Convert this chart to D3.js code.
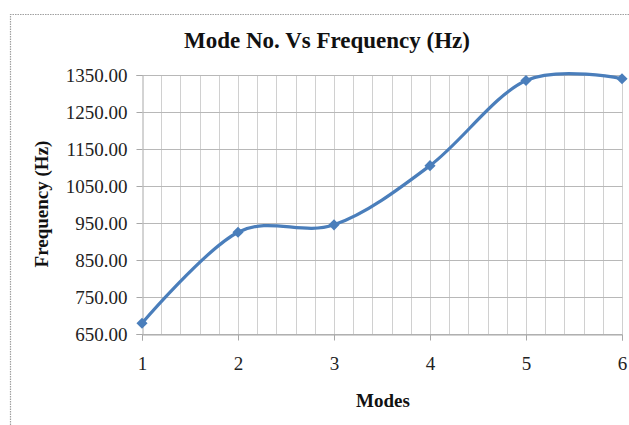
<!DOCTYPE html>
<html><head><meta charset="utf-8">
<script src="https://cdn.jsdelivr.net/npm/d3@7"></script>
<style>body{margin:0;background:#fff}svg{display:block}</style>
</head><body>
<script>
const modes = [1, 2, 3, 4, 5, 6];
const frequency = [679, 925, 945, 1105, 1335, 1340];
const yTicks = [650, 750, 850, 950, 1050, 1150, 1250, 1350];
const xTicks = [1, 2, 3, 4, 5, 6];
const title = "Mode No. Vs Frequency (Hz)";
const xTitle = "Modes";
const yTitle = "Frequency (Hz)";

const W = 629, H = 425;
const svg = d3.select("body").append("svg").attr("width", W).attr("height", H);
const font = "'Liberation Serif','Times New Roman',serif";

// chart frame
svg.append("path").attr("d", "M10.5,430 V14.5 H640").attr("fill", "none")
  .attr("stroke", "#a0a0a0").attr("stroke-width", 1.2).attr("stroke-dasharray", "1.5,1");

const x = d3.scaleLinear().domain([1, 6]).range([142, 622]);
const y = d3.scaleLinear().domain([650, 1350]).range([334, 75]);

// vertical gridlines at 0.2 steps
const vg = d3.range(1.2, 6.01, 0.2);
svg.append("g").selectAll("line").data(vg).join("line")
  .attr("x1", d => Math.round(x(d)) + 0.5).attr("x2", d => Math.round(x(d)) + 0.5)
  .attr("y1", y(1350)).attr("y2", y(650))
  .attr("stroke", "#d0d0d0").attr("stroke-width", 1);

// y axis with gridlines
const yAxis = d3.axisLeft(y).tickValues(yTicks).tickFormat(d3.format(".2f"))
  .tickSize(6).tickPadding(9);
const gy = svg.append("g").attr("transform", "translate(142.5,0)").call(yAxis);
gy.select(".domain").attr("stroke", "#a8a8a8");
gy.selectAll(".tick line").attr("stroke", "#a8a8a8").attr("x2", -6);
gy.selectAll(".tick").append("line").attr("x1", 0).attr("x2", 480).attr("stroke", "#b8b8b8");
gy.selectAll(".tick text").attr("font-family", font).attr("font-size", 19).attr("fill", "#222");

// x axis
const xAxis = d3.axisBottom(x).tickValues(xTicks).tickFormat(d3.format("d"))
  .tickSize(6).tickPadding(16);
const gx = svg.append("g").attr("transform", "translate(0,334.5)").call(xAxis);
gx.select(".domain").attr("stroke", "#a8a8a8");
gx.selectAll(".tick line").attr("stroke", "#a8a8a8");
gx.selectAll(".tick text").attr("font-family", font).attr("font-size", 19).attr("fill", "#222");

// line
const line = d3.line().x((d, i) => x(modes[i])).y(d => y(d)).curve(d3.curveCardinal.tension(0));
svg.append("path").datum(frequency).attr("d", line).attr("fill", "none")
  .attr("stroke", "#4a7ebb").attr("stroke-width", 3.2).attr("stroke-linejoin", "round");

// markers (square rotated 45deg = Excel diamond)
svg.append("g").selectAll("path").data(frequency).join("path")
  .attr("d", d3.symbol(d3.symbolSquare, 62))
  .attr("transform", (d, i) => `translate(${x(modes[i])},${y(d)}) rotate(45)`)
  .attr("fill", "#4a7ebb");

// titles
svg.append("text").attr("x", 327).attr("y", 48).attr("text-anchor", "middle")
  .attr("font-family", font).attr("font-weight", "bold").attr("font-size", 23).attr("fill", "#111").text(title);
svg.append("text").attr("x", 383).attr("y", 407).attr("text-anchor", "middle")
  .attr("font-family", font).attr("font-weight", "bold").attr("font-size", 19).attr("fill", "#111").text(xTitle);
svg.append("text").attr("transform", "translate(48,204) rotate(-90)").attr("text-anchor", "middle")
  .attr("font-family", font).attr("font-weight", "bold").attr("font-size", 19).attr("fill", "#111").text(yTitle);
</script>
</body></html>
